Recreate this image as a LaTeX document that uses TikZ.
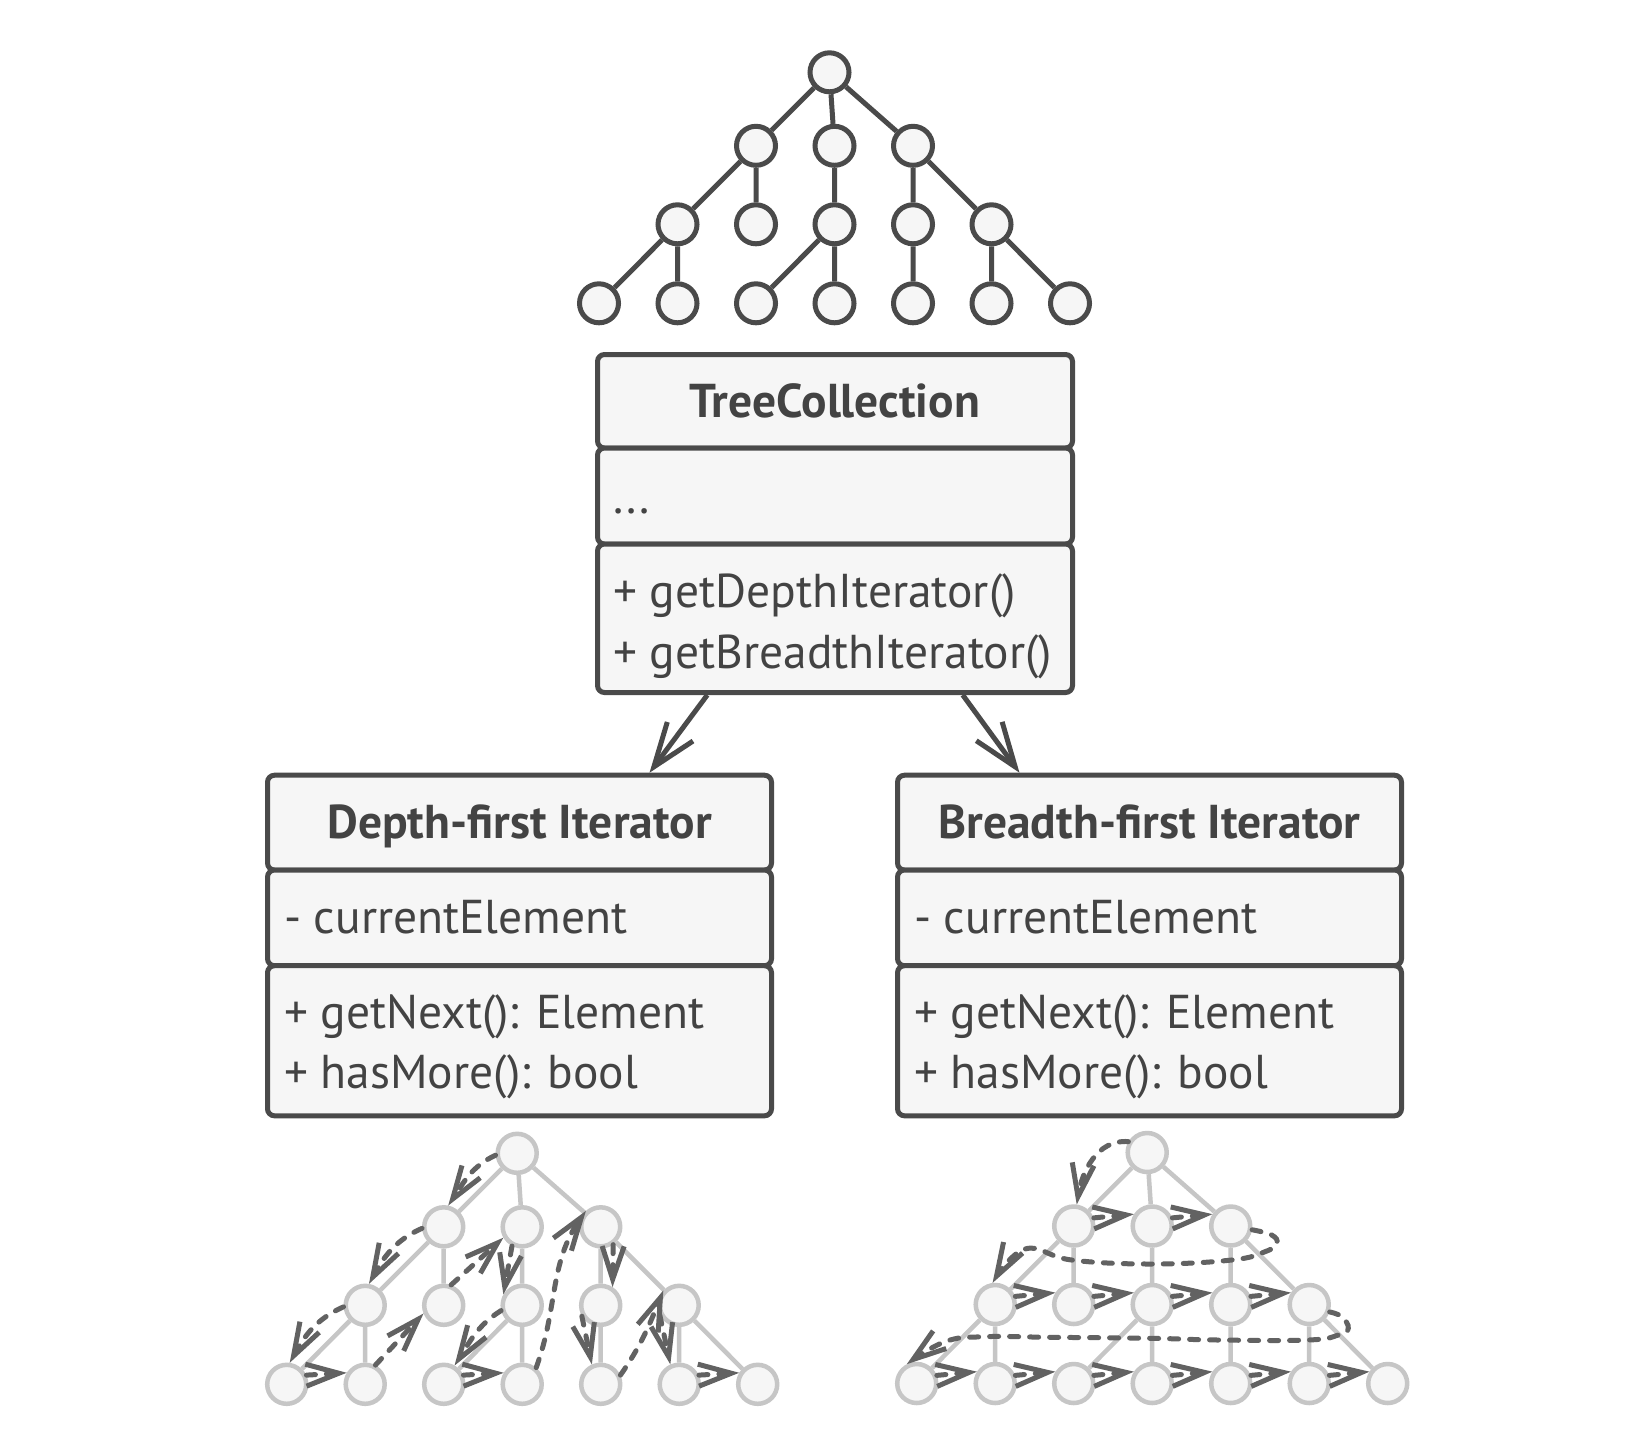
\documentclass[tikz,border=0pt]{standalone}
\usepackage{fontspec}
\setmainfont{PT Sans}
\usetikzlibrary{arrows.meta}
\definecolor{dk}{HTML}{4A4A4A}
\definecolor{txt}{HTML}{434343}
\definecolor{nfill}{HTML}{F6F6F6}
\definecolor{lg}{HTML}{C6C6C6}
\definecolor{arc}{HTML}{626262}

\newcommand{\mktree}[4]{%
 \node[#4] (#10) at (#2+230.5,#3) {};
 \node[#4] (#111) at (#2+157,#3+73.5) {};
 \node[#4] (#112) at (#2+235.5,#3+73.5) {};
 \node[#4] (#113) at (#2+314,#3+73.5) {};
 \node[#4] (#121) at (#2+78.5,#3+152) {};
 \node[#4] (#122) at (#2+157,#3+152) {};
 \node[#4] (#123) at (#2+235.5,#3+152) {};
 \node[#4] (#124) at (#2+314,#3+152) {};
 \node[#4] (#125) at (#2+392.5,#3+152) {};
 \node[#4] (#131) at (#2,#3+231) {};
 \node[#4] (#132) at (#2+78.5,#3+231) {};
 \node[#4] (#133) at (#2+157,#3+231) {};
 \node[#4] (#134) at (#2+235.5,#3+231) {};
 \node[#4] (#135) at (#2+314,#3+231) {};
 \node[#4] (#136) at (#2+392.5,#3+231) {};
 \node[#4] (#137) at (#2+471,#3+231) {};
}
\newcommand{\mkedges}[2]{%
 \draw[#2] (#10)--(#111) (#10)--(#112) (#10)--(#113)
  (#111)--(#121) (#111)--(#122) (#112)--(#123) (#113)--(#124) (#113)--(#125)
  (#121)--(#131) (#121)--(#132) (#123)--(#133) (#123)--(#134) (#124)--(#135)
  (#125)--(#136) (#125)--(#137);
}

\begin{document}
\begin{tikzpicture}[x=1pt,y=-1pt,
 tnode/.style={circle, minimum size=39pt, inner sep=0pt, line width=5pt, draw=dk, fill=nfill},
 lnode/.style={circle, minimum size=39pt, inner sep=0pt, line width=4.5pt, draw=lg, fill=nfill},
 tedge/.style={line width=5pt, draw=dk},
 ledge/.style={line width=4.5pt, draw=lg},
 cbox/.style={rectangle, draw=dk, fill=nfill, line width=5pt, rounded corners=7pt, inner sep=0pt},
 ttl/.style={font=\fontsize{47.5}{56}\selectfont\bfseries, text=txt, inner sep=0pt, anchor=base},
 mem/.style={font=\fontsize{47.5}{56}\selectfont, text=txt, inner sep=0pt, anchor=base west},
 bigarr/.style={draw=dk, line width=5pt, -{Straight Barb[length=44pt,width=32pt]}},
 darr/.style={draw=arc, line width=5pt, dash pattern=on 9pt off 11pt, line cap=round, -{Straight Barb[length=33pt,width=22pt]}},
]
\fill[white] (0,0) rectangle (1632,1440);
\useasboundingbox (0,0) rectangle (1632,1440);

% top tree
\mktree{t}{599}{72.3}{tnode}
\mkedges{t}{tedge}

% TreeCollection
\node[cbox, minimum width=475pt, minimum height=93.5pt] (tc1) at (835,401.25) {};
\node[cbox, minimum width=475pt, minimum height=96pt] (tc2) at (835,496) {};
\node[cbox, minimum width=475pt, minimum height=148.5pt] (tc3) at (835,618.25) {};
\node[ttl] (tct) at (835,417) {TreeCollection};
\node[mem] (tca) at (613,513) {...};
\node[mem] (tcm1) at (613,607) {+ getDepthIterator()};
\node[mem] (tcm2) at (613,668) {+ getBreadthIterator()};

% Depth-first box
\node[cbox, minimum width=504pt, minimum height=94.8pt] (dt1) at (519.5,822.6) {};
\node[cbox, minimum width=504pt, minimum height=95.7pt] (dt2) at (519.5,917.85) {};
\node[cbox, minimum width=504pt, minimum height=150.1pt] (dt3) at (519.5,1040.75) {};
\node[ttl] (dtt) at (519.5,838) {Depth-first Iterator};
\node[mem] (dta) at (284,933) {- currentElement};
\node[mem] (dtm1) at (284,1028) {+ getNext(): Element};
\node[mem] (dtm2) at (284,1088) {+ hasMore(): bool};

% Breadth-first box
\node[cbox, minimum width=504pt, minimum height=94.8pt] (bt1) at (1149.5,822.6) {};
\node[cbox, minimum width=504pt, minimum height=95.7pt] (bt2) at (1149.5,917.85) {};
\node[cbox, minimum width=504pt, minimum height=150.1pt] (bt3) at (1149.5,1040.75) {};
\node[ttl] (btt) at (1149.5,838) {Breadth-first Iterator};
\node[mem] (bta) at (914,933) {- currentElement};
\node[mem] (btm1) at (914,1028) {+ getNext(): Element};
\node[mem] (btm2) at (914,1088) {+ hasMore(): bool};

% arrows from TreeCollection
\draw[bigarr] (tc3.211) -- (dt1.21);
\draw[bigarr] (tc3.329) -- (bt1.159);

% depth-first tree
\mktree{d}{286.7}{1153.3}{lnode}
\mkedges{d}{ledge}
\draw[darr] (d0.185) to[out=205,in=56] (d11.78);
\draw[darr] (d11.184) to[out=204,in=61] (d21.80);
\draw[darr] (d21.184) to[out=204,in=61] (d31.82);
\draw[darr] (d31.25) -- (d32.148);
\draw[darr] (d32.62) -- (d22.202);
\draw[darr] (d22.70) -- (d12.210);
\draw[darr] (d12.242) -- (d23.150);
\draw[darr] (d23.194) to[out=212,in=57] (d33.60);
\draw[darr] (d33.25) -- (d34.148);
\draw[darr] (d34.50) to[out=70,in=235] (d13.133);
\draw[darr] (d13.305) -- (d24.57);
\draw[darr] (d24.210) -- (d35.114);
\draw[darr] (d35.25) to[out=55,in=248] (d25.137);
\draw[darr] (d25.207) -- (d36.114);
\draw[darr] (d36.25) -- (d37.148);

% breadth-first tree
\mktree{b}{916.7}{1152.5}{lnode}
\mkedges{b}{ledge}
\draw[darr] (b0.150) to[out=175,in=81] (b11.82);
\draw[darr] (b11.22) -- (b12.147);
\draw[darr] (b12.22) -- (b13.147);
\draw[darr] plot[smooth, tension=0.7] coordinates {(b13.350) (1271.7,1235) (1276.7,1243.3) (1265,1251.7) (1231.7,1260) (1151.7,1264) (1071.7,1260) (1025,1249) (b21.97)};
\draw[darr] (b21.22) -- (b22.147);
\draw[darr] (b22.22) -- (b23.147);
\draw[darr] (b23.22) -- (b24.147);
\draw[darr] (b24.22) -- (b25.147);
\draw[darr] plot[smooth, tension=0.7] coordinates {(b25.340) (1341.7,1316.7) (1348.3,1328.3) (1338.3,1335) (1308.3,1340) (1218.3,1340) (1151.7,1338.3) (1051.7,1337.3) (985,1336.7) (945,1341.7) (b31.117)};
\draw[darr] (b31.22) -- (b32.147);
\draw[darr] (b32.22) -- (b33.147);
\draw[darr] (b33.22) -- (b34.147);
\draw[darr] (b34.22) -- (b35.147);
\draw[darr] (b35.22) -- (b36.147);
\draw[darr] (b36.22) -- (b37.147);
\end{tikzpicture}
\end{document}
